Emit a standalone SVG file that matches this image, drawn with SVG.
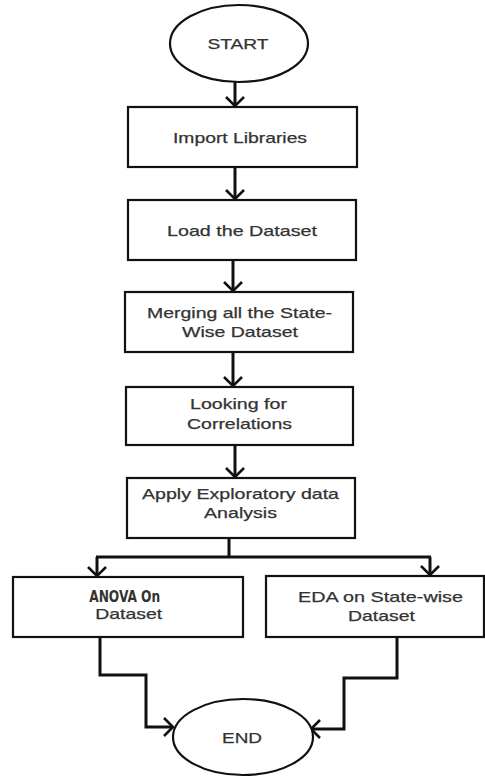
<svg xmlns="http://www.w3.org/2000/svg" width="485" height="778" viewBox="0 0 485 778">
<style>
.box{fill:#fff;stroke:#111;stroke-width:2.2}
.term{fill:#fff;stroke:#111;stroke-width:2.2}
.lbl{font-family:"Liberation Sans",Arial,sans-serif;font-size:15px;fill:#333;text-anchor:middle;stroke:#333;stroke-width:0.25}
.cond{font-family:"DejaVu Sans Condensed","DejaVu Sans",sans-serif;font-weight:bold;font-size:16px;fill:#333;text-anchor:middle}
.con{fill:none;stroke:#111;stroke-width:3}
</style>
<defs>
<marker id="arr" viewBox="-12 -12 14 24" markerWidth="14" markerHeight="24" refX="0" refY="0" orient="auto" markerUnits="userSpaceOnUse">
<path d="M-9,-9 L0,0 L-9,9" fill="none" stroke="#111" stroke-width="2.6"/>
</marker>
</defs>
<rect width="485" height="778" fill="#fff"/>
<g id="connectors">
<path class="con" d="M235,82 V106" marker-end="url(#arr)"/>
<path class="con" d="M235,167 V199" marker-end="url(#arr)"/>
<path class="con" d="M233,260 V291" marker-end="url(#arr)"/>
<path class="con" d="M233,352 V386" marker-end="url(#arr)"/>
<path class="con" d="M235,445 V477" marker-end="url(#arr)"/>
<path class="con" d="M229,538 V557 M96,557 H431"/>
<path class="con" d="M97,557 V576" marker-end="url(#arr)"/>
<path class="con" d="M430,557 V575" marker-end="url(#arr)"/>
<path class="con" d="M100,637 V675 H146 V727 H173" marker-end="url(#arr)"/>
<path class="con" d="M397,637 V678 H344 V729 H311" marker-end="url(#arr)"/>
</g>
<g id="start">
<ellipse class="term" cx="239" cy="43.5" rx="69" ry="38.5"/>
<text class="lbl" x="238" y="49" textLength="61" lengthAdjust="spacingAndGlyphs">START</text>
</g>
<g id="import">
<rect class="box" x="128" y="107" width="229" height="60"/>
<text class="lbl" x="240" y="143" textLength="134" lengthAdjust="spacingAndGlyphs">Import Libraries</text>
</g>
<g id="load">
<rect class="box" x="128" y="200" width="228" height="60"/>
<text class="lbl" x="242" y="236" textLength="150" lengthAdjust="spacingAndGlyphs">Load the Dataset</text>
</g>
<g id="merge">
<rect class="box" x="125" y="292" width="228" height="60"/>
<text class="lbl" x="239.5" y="318" textLength="185" lengthAdjust="spacingAndGlyphs">Merging all the State-</text>
<text class="lbl" x="240" y="337" textLength="116" lengthAdjust="spacingAndGlyphs">Wise Dataset</text>
</g>
<g id="correlations">
<rect class="box" x="126" y="387" width="227" height="58"/>
<text class="lbl" x="238.5" y="409" textLength="97" lengthAdjust="spacingAndGlyphs">Looking for</text>
<text class="lbl" x="239.5" y="429" textLength="105" lengthAdjust="spacingAndGlyphs">Correlations</text>
</g>
<g id="eda">
<rect class="box" x="127" y="478" width="228" height="60"/>
<text class="lbl" x="240.5" y="499" textLength="197" lengthAdjust="spacingAndGlyphs">Apply Exploratory data</text>
<text class="lbl" x="240.5" y="518" textLength="73" lengthAdjust="spacingAndGlyphs">Analysis</text>
</g>
<g id="anova">
<rect class="box" x="13" y="577" width="230" height="60"/>
<text class="cond" x="124.7" y="602" textLength="71" lengthAdjust="spacingAndGlyphs">ANOVA On</text>
<text class="lbl" x="128.7" y="619" textLength="67" lengthAdjust="spacingAndGlyphs">Dataset</text>
</g>
<g id="statewise">
<rect class="box" x="266" y="576" width="218" height="61"/>
<text class="lbl" x="380.5" y="602" textLength="165" lengthAdjust="spacingAndGlyphs">EDA on State-wise</text>
<text class="lbl" x="381.5" y="621" textLength="67" lengthAdjust="spacingAndGlyphs">Dataset</text>
</g>
<g id="end">
<ellipse class="term" cx="243" cy="737" rx="70" ry="38"/>
<text class="lbl" x="242" y="743" textLength="40" lengthAdjust="spacingAndGlyphs">END</text>
</g>
</svg>
